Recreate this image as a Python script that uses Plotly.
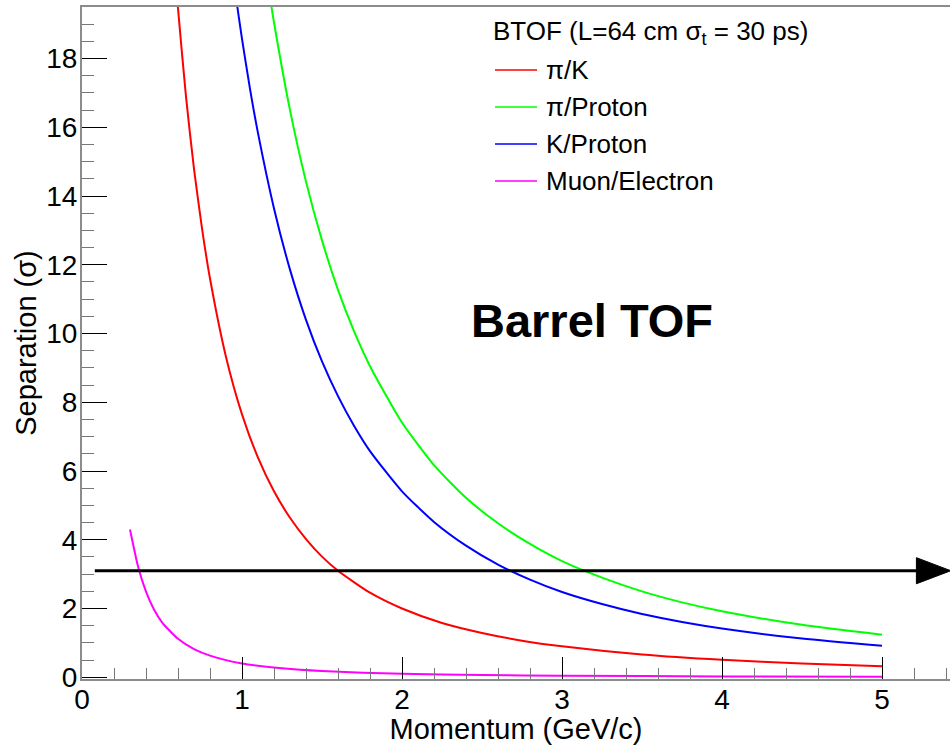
import plotly.graph_objects as go

# ---------------- data ----------------
pk_p = [0.59, 0.60, 0.65, 0.70, 0.75, 0.80, 0.90, 1.0, 1.1, 1.2, 1.3, 1.4, 1.5, 1.6,
        1.8, 2.0, 2.25, 2.5, 2.75, 3.0, 3.5, 4.0, 4.5, 5.0]
pk_sep = [20.03, 19.46, 16.89, 14.79, 13.06, 11.60, 9.32, 7.65, 6.39, 5.41, 4.64, 4.02, 3.51, 3.10,
          2.46, 2.00, 1.58, 1.29, 1.066, 0.90, 0.661, 0.507, 0.401, 0.324]

pp_p = [1.17, 1.2, 1.3, 1.4, 1.5, 1.6, 1.7, 1.8, 2.0, 2.2, 2.4, 2.6, 2.8, 3.0,
        3.25, 3.5, 3.75, 4.0, 4.5, 5.0]
pp_sep = [19.92, 19.05, 16.50, 14.42, 12.71, 11.27, 10.07, 9.05, 7.41, 6.17, 5.22, 4.48, 3.88, 3.38,
          2.90, 2.50, 2.18, 1.92, 1.525, 1.238]

kp_p = [0.95, 0.96, 1.0, 1.05, 1.1, 1.2, 1.3, 1.4, 1.5, 1.6, 1.7, 1.8, 2.0, 2.2, 2.4, 2.6,
        2.8, 3.0, 3.25, 3.5, 3.75, 4.0, 4.5, 5.0]
kp_sep = [20.2, 19.86, 18.57, 17.12, 15.83, 13.64, 11.86, 10.40, 9.19, 8.18, 7.32, 6.58, 5.41, 4.52,
          3.83, 3.28, 2.84, 2.48, 2.13, 1.84, 1.61, 1.42, 1.125, 0.914]

me_p = [0.30, 0.35, 0.40, 0.45, 0.50, 0.60, 0.70, 0.80, 1.0, 1.25, 1.5, 2.0, 2.5, 3.0, 4.0, 5.0]
me_sep = [4.30, 3.23, 2.49, 1.97, 1.60, 1.12, 0.82, 0.63, 0.40, 0.26, 0.18, 0.10, 0.065, 0.045,
          0.025, 0.016]

series_names = ["\u03c0/K", "\u03c0/Proton", "K/Proton", "Muon/Electron"]
series_colors = ["#ff0000", "#00ff00", "#0000ff", "#ff00ff"]
series_x = [pk_p, pp_p, kp_p, me_p]
series_y = [pk_sep, pp_sep, kp_sep, me_sep]

threshold_sep = 3.1
arrow_start_p = 0.08
arrow_head_p = 5.215
arrow_tip_p = 5.43
arrow_half_h = 0.38

x_range = [0, 5.425]
y_range = [-0.05, 19.5]

legend_header = "BTOF (L=64 cm \u03c3<sub>t</sub> = 30 ps)"
x_title = "Momentum (GeV/c)"
y_title = "Separation (\u03c3)"
label_text = "Barrel TOF"

FONT = "Liberation Sans, Arial, Helvetica, sans-serif"
W, H = 950, 745
ML, MR, MT, MB = 82, 0, 7, 66
PW, PH = W - ML - MR, H - MT - MB


def px_to_paper(px, py):
    return (px - ML) / PW, (H - MB - py) / PH


fig = go.Figure()
for name, col, xs, ys in zip(series_names, series_colors, series_x, series_y):
    fig.add_trace(go.Scatter(x=xs, y=ys, mode="lines", name=name,
                             line=dict(color=col, width=2, shape="spline", smoothing=0.6),
                             showlegend=False, cliponaxis=True))

shapes = []
# threshold arrow
shapes.append(dict(type="line", xref="x", yref="y", x0=arrow_start_p, x1=arrow_head_p + 0.02,
                   y0=threshold_sep, y1=threshold_sep, line=dict(color="black", width=3)))
shapes.append(dict(type="path", xref="x", yref="y",
                   path=f"M {arrow_head_p},{threshold_sep + arrow_half_h} L {arrow_tip_p},{threshold_sep} "
                        f"L {arrow_head_p},{threshold_sep - arrow_half_h} Z",
                   fillcolor="black", line=dict(color="black", width=1)))

annotations = []
# legend (manual, ROOT style)
hx, hy = px_to_paper(491, 33)
annotations.append(dict(text=legend_header, xref="paper", yref="paper", x=hx, y=hy,
                        xanchor="left", yanchor="middle", showarrow=False,
                        font=dict(family=FONT, size=26, color="black")))
row_y = [70, 107, 144, 181]
for name, col, ry in zip(series_names, series_colors, row_y):
    x0, y0 = px_to_paper(495, ry)
    x1, _ = px_to_paper(537, ry)
    shapes.append(dict(type="line", xref="paper", yref="paper", x0=x0, x1=x1, y0=y0, y1=y0,
                       line=dict(color=col, width=1.5)))
    tx, _ = px_to_paper(544, ry)
    annotations.append(dict(text=name, xref="paper", yref="paper", x=tx, y=y0,
                            xanchor="left", yanchor="middle", showarrow=False,
                            font=dict(family=FONT, size=26, color="black")))

bx, by = px_to_paper(592, 320)
annotations.append(dict(text=f"<b>{label_text}</b>", xref="paper", yref="paper", x=bx, y=by,
                        xanchor="center", yanchor="middle", showarrow=False,
                        font=dict(family=FONT, size=47, color="black")))

axis_common = dict(showgrid=False, zeroline=False, showline=True, linecolor="#8c8c8c",
                   linewidth=2, ticks="inside", tickcolor="black", tickwidth=1,
                   tickfont=dict(family=FONT, size=28, color="black"))

fig.update_layout(
    width=W, height=H, margin=dict(l=ML, r=MR, t=MT, b=MB, autoexpand=False),
    paper_bgcolor="white", plot_bgcolor="white",
    font=dict(family=FONT, color="black"),
    xaxis=dict(range=x_range, dtick=1, tick0=0, ticklen=22, mirror=True, ticklabelstandoff=-6,
               minor=dict(ticks="inside", dtick=0.2, ticklen=11, tickcolor="#777777", tickwidth=1),
               title=dict(text=x_title, font=dict(family=FONT, size=29), standoff=2),
               **axis_common),
    yaxis=dict(range=y_range, dtick=2, tick0=0, ticklen=25, ticklabelstandoff=-3,
               minor=dict(ticks="inside", dtick=0.5, ticklen=12, tickcolor="#777777", tickwidth=1),
               title=dict(text=y_title, font=dict(family=FONT, size=29), standoff=1),
               **axis_common),
    shapes=shapes, annotations=annotations,
)

fig.write_html("out.html")
